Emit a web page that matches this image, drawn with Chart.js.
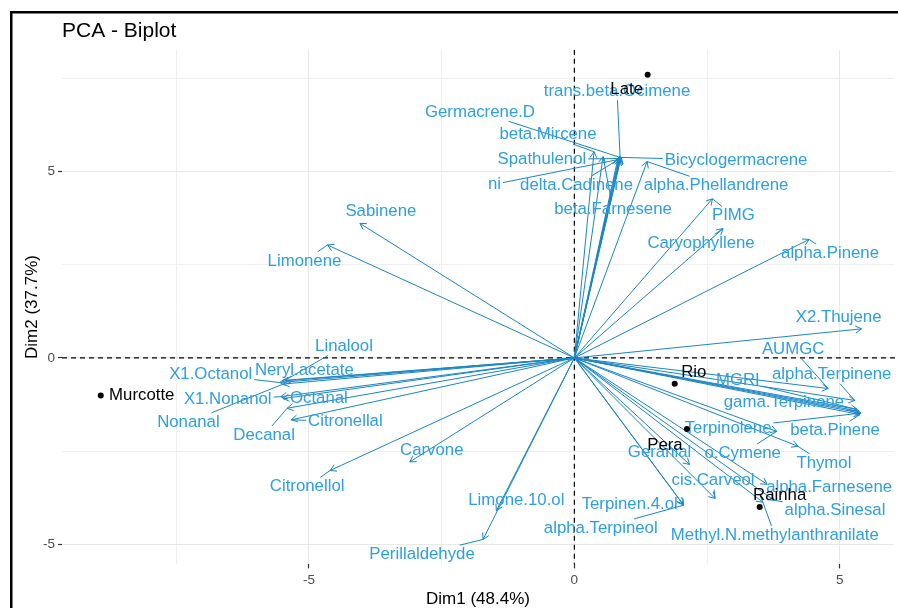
<!DOCTYPE html>
<html>
<head>
<meta charset="utf-8">
<script src="https://cdn.jsdelivr.net/npm/chart.js@4/dist/chart.umd.min.js"></script>
<style>
  html, body { margin: 0; padding: 0; background: #fff; overflow: hidden; }
  canvas { display: block; }
</style>
</head>
<body>
<canvas id="c" width="898" height="608"></canvas>
<script>
// Variable loadings on the first two principal components
const varNames = ['Sabinene','Limonene','Linalool','Neryl.acetate','X1.Octanol','Nonanal','X1.Nonanol','Octanal','Decanal','Citronellal',
  'Citronellol','Carvone','Limone.10.ol','Perillaldehyde','PIMG','Caryophyllene','alpha.Pinene','X2.Thujene','alpha.Phellandrene','Bicyclogermacrene',
  'trans.beta.Ocimene','Germacrene.D','beta.Mircene','Spathulenol','ni','delta.Cadinene','beta.Farnesene','AUMGC','alpha.Terpinene','MGRI',
  'gama.Terpinene','Terpinolene','beta.Pinene','o.Cymene','Thymol','Geranial','cis.Carveol','Terpinen.4.ol','alpha.Terpineol','alpha.Farnesene',
  'alpha.Sinesal','Methyl.N.methylanthranilate'];
const varDim1 = [-4.04,-4.65,-5.45,-5.50,-5.55,-5.48,-5.53,-5.49,-5.41,-5.33,
  -4.60,-3.10,-1.47,-1.72,2.60,2.80,4.42,5.41,1.37,0.88,
  0.86,0.84,0.37,0.82,0.85,0.87,0.54,4.78,5.28,5.32,
  5.36,5.40,5.38,3.81,4.21,2.17,2.65,2.04,2.06,3.63,
  3.76,3.55];
const varDim2 = [3.61,3.03,-0.60,-0.62,-0.66,-0.70,-1.04,-1.09,-1.35,-1.66,
  -3.02,-2.79,-4.10,-4.87,4.27,3.47,3.18,0.78,5.27,5.38,
  5.42,5.39,5.53,5.35,5.33,5.36,5.40,-0.82,-1.14,-1.38,
  -1.43,-1.48,-1.52,-1.97,-2.37,-2.86,-3.77,-3.92,-3.95,-3.39,
  -3.82,-3.87];

// Individual scores (orange varieties)
const indNames = ['Late','Rio','Pera','Rainha','Murcotte'];
const indDim1 = [1.38, 1.89, 2.12, 3.49, -8.92];
const indDim2 = [7.60, -0.69, -1.91, -4.00, -1.01];

// Axis ticks
const majorTicks = [-5, 0, 5];
const xGridTicks = [-7.5, -5, -2.5, 0, 2.5, 5];
const yGridTicks = [-5, -2.5, 0, 2.5, 5, 7.5];

// Repelled label placement (pixel offsets from the labelled point)
const varLabelDx = [21,-23,59,22,-69,-95,-53,36,-23,54,-23,22,20,-61,21,-22,21,-23,69,115,
  -3,-139,-46,-76,-125,-44,10,-35,-23,-119,-75,-133,-25,-34,26,-30,-2,-53,-83,62,61,12];
const varLabelDy = [-12,16,-34,-11,-8,38,3,0,27,2,16,-12,-10,15,17,15,14,-11,24,3,
  -65,-45,-17,1,25,27,53,-39,-26,-29,-9,15,16,22,17,-12,-18,0,23,3,10,33];
const indLabelDx = [-21, 19, -22, 20, 41];
const indLabelDy = [15, -11, 16, -12, 0];

const FONT = "'Liberation Sans', Arial, Helvetica, sans-serif";
const VAR_TEXT = '#2E9FDF';
const VAR_LINE = '#1B86C4';
const LABEL_SIZE = 16.8;

function drawArrow(ctx, x0, y0, x1, y1) {
  ctx.beginPath();
  ctx.moveTo(x0, y0);
  ctx.lineTo(x1, y1);
  ctx.stroke();
  const a = Math.atan2(y1 - y0, x1 - x0);
  const len = 7, wing = Math.PI / 6;
  ctx.beginPath();
  ctx.moveTo(x1 - len * Math.cos(a - wing), y1 - len * Math.sin(a - wing));
  ctx.lineTo(x1, y1);
  ctx.lineTo(x1 - len * Math.cos(a + wing), y1 - len * Math.sin(a + wing));
  ctx.stroke();
}

// Segment from a point to the edge of its label box, when the label sits away from it
function drawLeader(ctx, px, py, cx, cy, hw, hh) {
  const dx = px - cx, dy = py - cy;
  if (Math.abs(dx) <= hw + 3 && Math.abs(dy) <= hh + 3) return;
  let t = 1;
  if (dx !== 0) t = Math.min(t, hw / Math.abs(dx));
  if (dy !== 0) t = Math.min(t, hh / Math.abs(dy));
  const sx = cx + dx * t, sy = cy + dy * t;
  if (Math.hypot(px - sx, py - sy) < 5) return;
  ctx.beginPath();
  ctx.moveTo(sx, sy);
  ctx.lineTo(px, py);
  ctx.stroke();
}

const biplot = {
  id: 'biplot',
  beforeDraw(chart) {
    const ctx = chart.ctx;
    ctx.save();
    ctx.fillStyle = '#ffffff';
    ctx.fillRect(0, 0, chart.width, chart.height);
    ctx.fillStyle = '#000000';
    ctx.fillRect(10, 11, 2.5, chart.height);
    ctx.fillRect(10, 11, chart.width, 2.5);
    ctx.restore();
  },
  beforeDatasetsDraw(chart) {
    const ctx = chart.ctx, area = chart.chartArea;
    const xs = chart.scales.x, ys = chart.scales.y;
    const ox = xs.getPixelForValue(0), oy = ys.getPixelForValue(0);
    ctx.save();
    ctx.beginPath();
    ctx.rect(area.left, area.top, chart.width - area.left, area.bottom - area.top);
    ctx.clip();

    // reference lines through the origin
    ctx.strokeStyle = '#000000';
    ctx.lineWidth = 1.2;
    ctx.setLineDash([5, 4]);
    ctx.beginPath();
    ctx.moveTo(ox, area.top); ctx.lineTo(ox, area.bottom);
    ctx.moveTo(area.left, oy); ctx.lineTo(chart.width, oy);
    ctx.stroke();
    ctx.setLineDash([]);

    // loading arrows
    ctx.strokeStyle = VAR_LINE;
    ctx.lineWidth = 1;
    for (let i = 0; i < varNames.length; i++) {
      drawArrow(ctx, ox, oy, xs.getPixelForValue(varDim1[i]), ys.getPixelForValue(varDim2[i]));
    }

    // labels with leader segments
    ctx.font = LABEL_SIZE + 'px ' + FONT;
    ctx.textAlign = 'center';
    ctx.textBaseline = 'middle';
    for (let i = 0; i < varNames.length; i++) {
      const px = xs.getPixelForValue(varDim1[i]), py = ys.getPixelForValue(varDim2[i]);
      const cx = px + varLabelDx[i], cy = py + varLabelDy[i];
      const w = ctx.measureText(varNames[i]).width;
      drawLeader(ctx, px, py, cx, cy, w / 2 + 2, LABEL_SIZE * 0.55);
    }
    ctx.fillStyle = VAR_TEXT;
    for (let i = 0; i < varNames.length; i++) {
      const px = xs.getPixelForValue(varDim1[i]), py = ys.getPixelForValue(varDim2[i]);
      ctx.fillText(varNames[i], px + varLabelDx[i], py + varLabelDy[i]);
    }
    ctx.restore();
  },
  afterDatasetsDraw(chart) {
    const ctx = chart.ctx;
    const xs = chart.scales.x, ys = chart.scales.y;
    ctx.save();
    ctx.font = LABEL_SIZE + 'px ' + FONT;
    ctx.textAlign = 'center';
    ctx.textBaseline = 'middle';
    ctx.fillStyle = '#000000';
    for (let i = 0; i < indNames.length; i++) {
      const px = xs.getPixelForValue(indDim1[i]), py = ys.getPixelForValue(indDim2[i]);
      ctx.fillText(indNames[i], px + indLabelDx[i], py + indLabelDy[i]);
    }
    ctx.restore();
  }
};

const isMajor = v => majorTicks.includes(v);
const gridColor = c => (c.tick && isMajor(c.tick.value)) ? '#e8e8e8' : '#efefef';
const tickColor = c => (c.tick && isMajor(c.tick.value)) ? '#333333' : 'rgba(0,0,0,0)';
const tickLabel = v => isMajor(v) ? String(v) : '';

new Chart(document.getElementById('c'), {
  type: 'scatter',
  data: {
    datasets: [
      {
        label: 'Individuals',
        data: indDim1.map((x, i) => ({ x, y: indDim2[i] })),
        pointRadius: 3,
        pointBackgroundColor: '#000000',
        pointBorderWidth: 0
      },
      {
        label: 'Variables',
        data: varDim1.map((x, i) => ({ x, y: varDim2[i] })),
        pointRadius: 0
      }
    ]
  },
  options: {
    responsive: false,
    animation: false,
    devicePixelRatio: 1,
    layout: { padding: { left: 0, right: 0, top: 0, bottom: 0 } },
    plugins: {
      legend: { display: false },
      tooltip: { enabled: false },
      title: {
        display: true,
        text: 'PCA - Biplot',
        align: 'start',
        fullSize: false,
        color: '#000000',
        font: { family: FONT, size: 21, weight: 'normal', lineHeight: 1.2 },
        padding: { top: 19, bottom: 5.5 }
      }
    },
    scales: {
      x: {
        type: 'linear',
        position: 'bottom',
        min: -9.65,
        max: 6.02,
        afterBuildTicks: s => { s.ticks = xGridTicks.map(v => ({ value: v })); },
        afterFit: s => { s.height = 43.6; },
        border: { display: false },
        grid: { color: gridColor, lineWidth: 1, tickColor: tickColor, tickLength: 4, tickWidth: 1.2, drawTicks: true },
        ticks: { callback: tickLabel, color: '#4d4d4d', font: { family: FONT, size: 13.5 }, padding: 4, maxRotation: 0, autoSkip: false },
        title: { display: true, text: 'Dim1 (48.4%)', color: '#000000', font: { family: FONT, size: 17, lineHeight: 1.05 }, padding: { top: 0, bottom: 0 } }
      },
      y: {
        type: 'linear',
        position: 'left',
        min: -5.54,
        max: 8.27,
        afterBuildTicks: s => { s.ticks = yGridTicks.map(v => ({ value: v })); },
        afterFit: s => { s.width = 62; },
        border: { display: false },
        grid: { color: gridColor, lineWidth: 1, tickColor: tickColor, tickLength: 4, tickWidth: 1.2, drawTicks: true },
        ticks: { callback: tickLabel, color: '#4d4d4d', font: { family: FONT, size: 13.5 }, padding: 3, autoSkip: false },
        title: { display: true, text: 'Dim2 (37.7%)', color: '#000000', font: { family: FONT, size: 17 }, padding: { top: 22, bottom: 0 } }
      }
    }
  },
  plugins: [biplot]
});
</script>
</body>
</html>
